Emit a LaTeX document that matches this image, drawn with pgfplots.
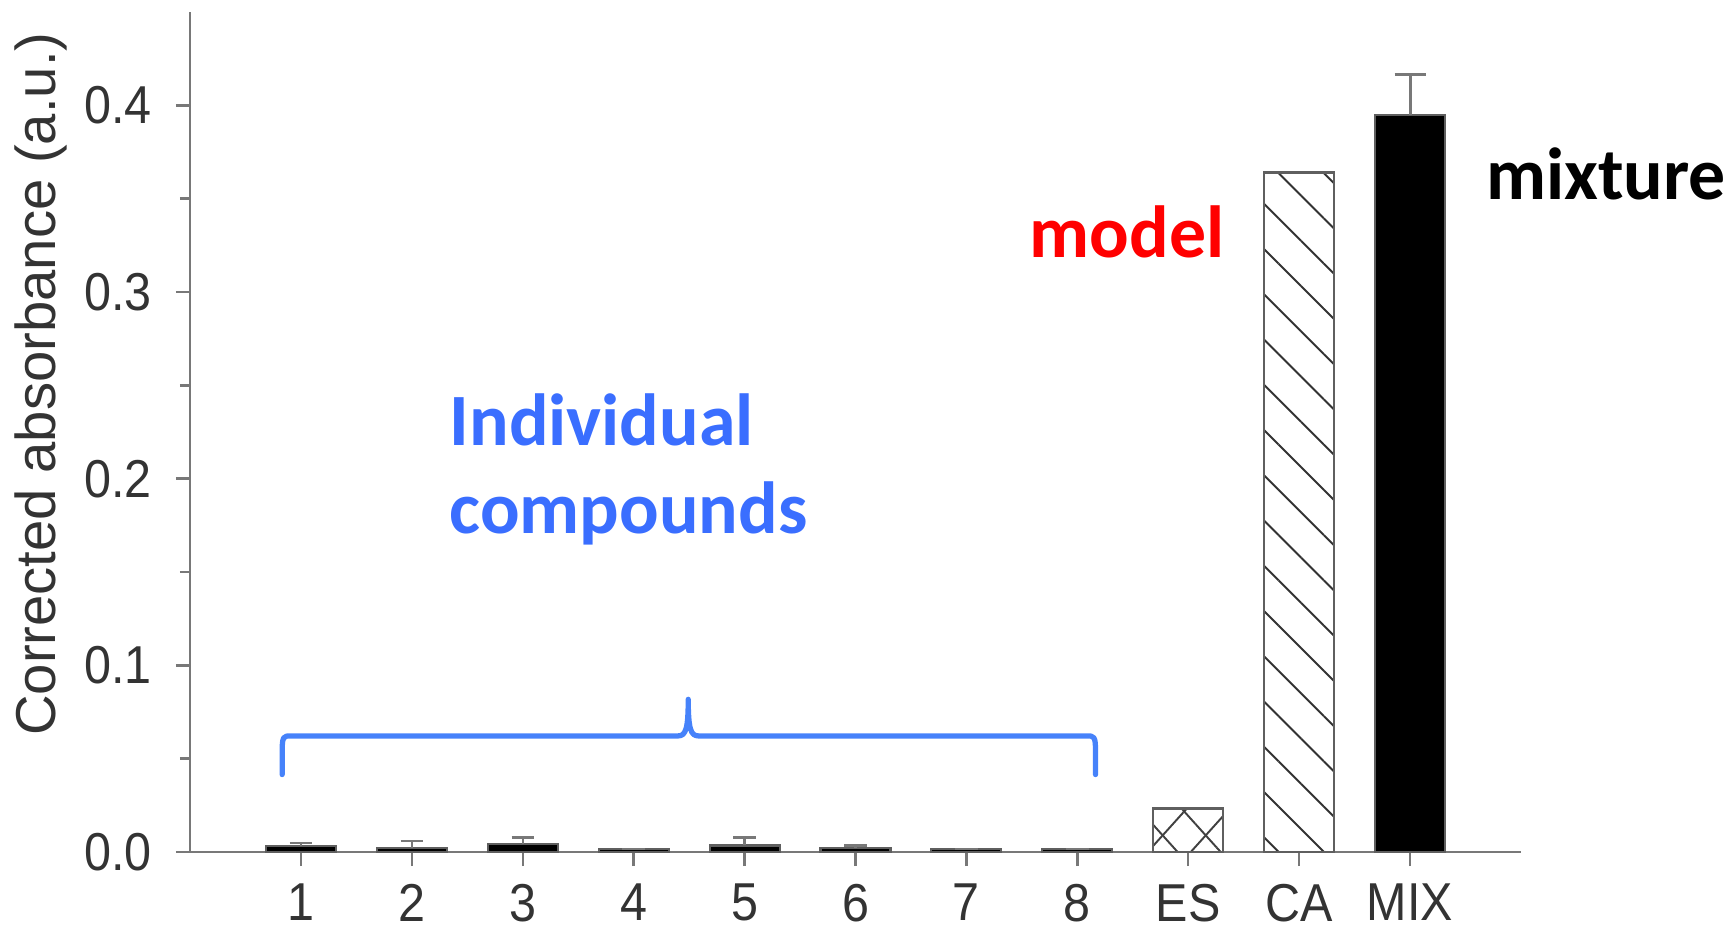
\documentclass[border=0pt]{standalone}
\usepackage{graphicx}
\usepackage{pgfplots}
\pgfplotsset{compat=1.18}
\usepackage{fontspec}
\setmainfont{Liberation Sans}
\newfontfamily\calfont{Carlito}
\usetikzlibrary{patterns.meta}
\definecolor{axgray}{RGB}{120,120,120}
\definecolor{bargray}{RGB}{95,95,95}
\definecolor{annblue}{RGB}{58,110,255}
\definecolor{braceblue}{RGB}{70,130,250}
\definecolor{annred}{RGB}{255,0,0}
\begin{document}
\begin{tikzpicture}
\path[use as bounding box] (-1.90cm,-0.79cm) rectangle (15.45cm,8.52cm);
\begin{axis}[
  at={(0,0)}, anchor=south west,
  scale only axis,
  width=13.31cm, height=8.40cm,
  xmin=0, xmax=12, ymin=0, ymax=0.45,
  axis lines=left,
  axis line style={-, axgray, line width=0.7pt},
  xtick={1,2,3,4,5,6,7,8,9,10,11},
  xticklabels={\scalebox{1}[1.1]{1},\scalebox{1}[1.1]{2},\scalebox{1}[1.1]{3},\scalebox{1}[1.1]{4},\scalebox{1}[1.1]{5},\scalebox{1}[1.1]{6},\scalebox{1}[1.1]{7},\scalebox{1}[1.1]{8},\scalebox{1}[1.1]{ES},\scalebox{1}[1.1]{CA},\scalebox{1}[1.1]{MIX}},
  ytick={0,0.1,0.2,0.3,0.4},
  minor y tick num=1,
  tick align=outside,
  major tick length=0.14cm,
  minor tick length=0.10cm,
  tick style={axgray, line width=0.7pt},
  /pgf/number format/assume math mode=true,
  /pgf/number format/fixed, /pgf/number format/precision=1, /pgf/number format/fixed zerofill,
  yticklabel={\scalebox{1}[1.1]{\pgfmathprintnumber{\tick}}},
  yticklabel style={font=\fontsize{13.8}{16}\selectfont, text=black!80, xshift=-0.12cm},
  xticklabel style={font=\fontsize{13.8}{16}\selectfont, text=black!80, yshift=-0.10cm, inner sep=2pt},
  ylabel={Corrected absorbance (a.u.)},
  every axis y label/.style={at={(rel axis cs:-0.112,0.557)}, rotate=90, anchor=center, font=\fontsize{16}{19}\selectfont, text=black!80},
  clip=false,
  ybar, bar width=0.70cm, bar shift=0pt,
]
% individual compounds
\addplot[fill=black, draw=bargray, line width=0.6pt,
  error bars/.cd, y dir=plus, y explicit,
  error bar style={axgray, line width=0.7pt},
  error mark options={rotate=90, axgray, mark size=3.2pt, line width=0.7pt}]
  coordinates {
  (1,0.0030) +- (0,0.0017)
  (2,0.0022) +- (0,0.0038)
  (3,0.0045) +- (0,0.0032)
  (4,0.0015) +- (0,0.0)
  (5,0.0035) +- (0,0.0042)
  (6,0.0020) +- (0,0.0015)
  (7,0.0015) +- (0,0.0)
  (8,0.0015) +- (0,0.0)
  };
% ES
\addplot[draw=bargray, line width=0.7pt,
  postaction={pattern={Lines[angle=48,distance=0.32cm,line width=0.55pt]}, pattern color=black!75},
  postaction={pattern={Lines[angle=-48,distance=0.32cm,line width=0.55pt]}, pattern color=black!75}]
  coordinates {(9,0.0232)};
% CA
\addplot[draw=bargray, line width=0.7pt,
  postaction={pattern={Lines[angle=-45,distance=0.32cm,line width=0.55pt]}, pattern color=black!80}]
  coordinates {(10,0.364)};
% MIX
\addplot[fill=black, draw=bargray, line width=0.6pt,
  error bars/.cd, y dir=plus, y explicit,
  error bar style={axgray, line width=0.8pt},
  error mark options={rotate=90, axgray, mark size=4.4pt, line width=0.8pt}]
  coordinates {(11,0.395) +- (0,0.0215)};

% annotations
\node[anchor=base west, font=\calfont\bfseries\fontsize{21}{25}\selectfont, text=annblue, inner sep=0pt] at (axis cs:2.335,0.218) {Individual};
\node[anchor=base west, font=\calfont\bfseries\fontsize{21}{25}\selectfont, text=annblue, inner sep=0pt] at (axis cs:2.335,0.1708) {compounds};
\node[anchor=base west, font=\calfont\bfseries\fontsize{21}{25}\selectfont, text=annred, inner sep=0pt] at (axis cs:7.566,0.3187) {model};
\node[anchor=base west, font=\calfont\bfseries\fontsize{21}{25}\selectfont, text=black, inner sep=0pt] at (axis cs:11.68,0.3497) {mixture};
% brace
\draw[braceblue, line width=1.5pt, line cap=round, line join=round]
  (axis cs:0.831,0.0415) -- (axis cs:0.831,0.054)
  .. controls (axis cs:0.831,0.0622) and (axis cs:0.845,0.0622) .. (axis cs:0.91,0.0622)
  -- (axis cs:4.40,0.0622)
  .. controls (axis cs:4.47,0.0622) and (axis cs:4.492,0.066) .. (axis cs:4.492,0.0818)
  .. controls (axis cs:4.492,0.066) and (axis cs:4.514,0.0622) .. (axis cs:4.584,0.0622)
  -- (axis cs:8.084,0.0622)
  .. controls (axis cs:8.15,0.0622) and (axis cs:8.164,0.0622) .. (axis cs:8.164,0.054)
  -- (axis cs:8.164,0.0415);
\end{axis}
\end{tikzpicture}
\end{document}
